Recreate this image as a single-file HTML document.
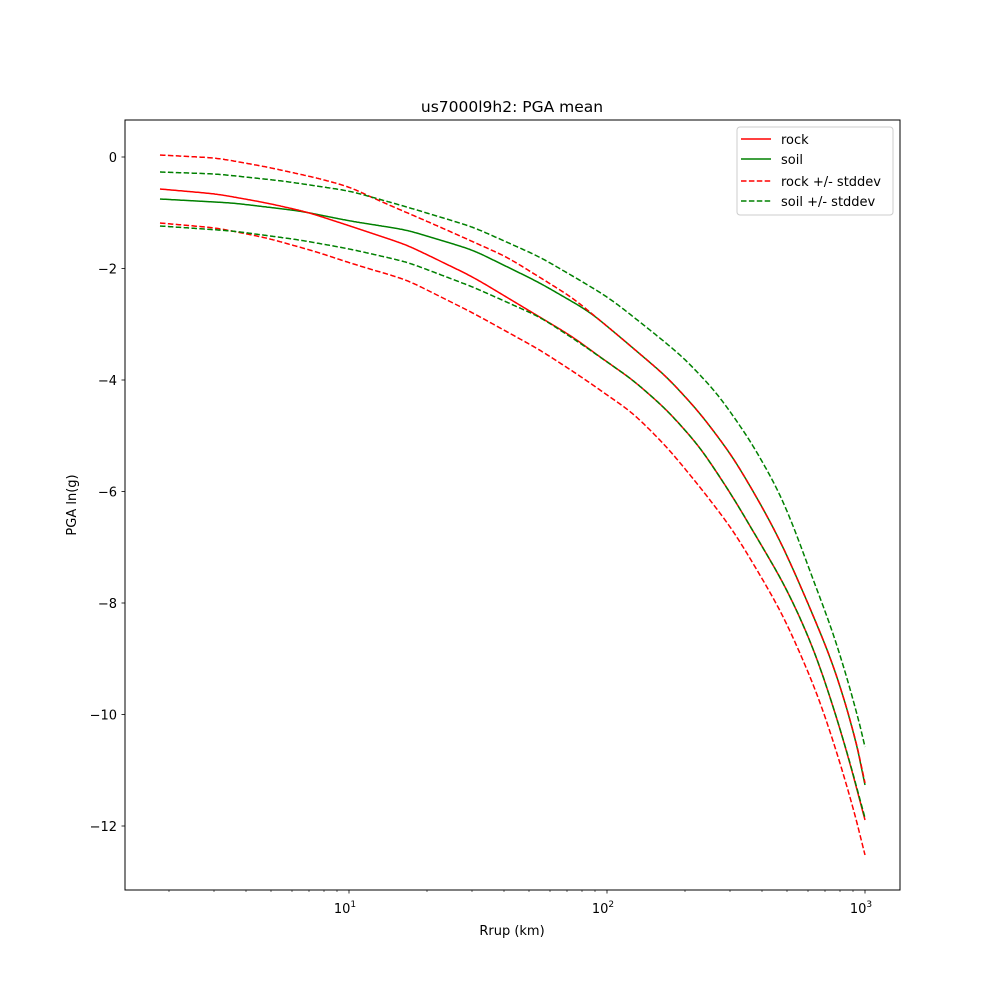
<!DOCTYPE html>
<html><head><meta charset="utf-8"><style>body{margin:0;background:#fff}svg{display:block}text{font-family:"DejaVu Sans","Liberation Sans",sans-serif}</style></head><body>
<svg width="1000" height="1000" viewBox="0 0 1000 1000">
<rect width="1000" height="1000" fill="#fff"/>
<g fill="none" stroke-width="1.5" stroke-linejoin="round">
<polyline class="s" stroke="green" points="160,199 233,203 300,211 350,221 407,230 473,250 540,283 590,312 620,337 667,377 700,413 733,457 760,503 780,540 798,580 815,620 833,663 853,727 865,785"/>
<polyline class="s" stroke="red" points="160,189 217,194 267,203 307,212 350,226 407,245 473,277 523,307 573,337 600,357 633,380 667,410 700,447 733,497 760,543 782,580 800,617 817,657 843,737 865,820"/>
<polyline class="s" stroke="red" stroke-dasharray="5.5,2.4" points="160,155 217,158 267,167 317,178 350,187 373,198 440,227 507,257 573,298 620,337 667,377 700,413 733,457 760,503 780,540 798,580 815,620 833,663 853,727 865,783"/>
<polyline class="s" stroke="red" stroke-dasharray="5.5,2.4" points="160,223 217,228 267,238 317,252 350,263 407,280 473,313 540,350 580,376 600,390 633,413 667,447 700,487 733,530 763,580 783,615 800,653 818,695 833,740 850,795 865,855"/>
<polyline class="s" stroke="green" stroke-dasharray="5.5,2.4" points="160,172 217,174 283,181 350,191 407,207 473,227 540,257 593,288 612,300 650,330 683,357 717,393 750,440 780,493 797,535 813,580 828,618 840,653 857,713 865,747"/>
<polyline class="s" stroke="green" stroke-dasharray="5.5,2.4" points="160,226 233,231 300,240 350,249 407,262 473,287 540,317 580,343 600,357 633,380 667,410 700,447 733,497 760,543 782,580 800,617 817,657 843,737 865,818"/>
</g>
<rect x="125" y="120" width="775" height="770" fill="none" stroke="#000" stroke-width="1"/>
<g stroke="#000" stroke-width="0.8">
<line x1="349" y1="890" x2="349" y2="893.5"/><line x1="607" y1="890" x2="607" y2="893.5"/><line x1="865" y1="890" x2="865" y2="893.5"/>
<g stroke-width="0.6">
<line x1="169" y1="890" x2="169" y2="892"/><line x1="214" y1="890" x2="214" y2="892"/><line x1="246" y1="890" x2="246" y2="892"/><line x1="271" y1="890" x2="271" y2="892"/><line x1="292" y1="890" x2="292" y2="892"/><line x1="309" y1="890" x2="309" y2="892"/><line x1="324" y1="890" x2="324" y2="892"/><line x1="337" y1="890" x2="337" y2="892"/>
<line x1="427" y1="890" x2="427" y2="892"/><line x1="472" y1="890" x2="472" y2="892"/><line x1="504" y1="890" x2="504" y2="892"/><line x1="529" y1="890" x2="529" y2="892"/><line x1="550" y1="890" x2="550" y2="892"/><line x1="567" y1="890" x2="567" y2="892"/><line x1="582" y1="890" x2="582" y2="892"/><line x1="595" y1="890" x2="595" y2="892"/>
<line x1="685" y1="890" x2="685" y2="892"/><line x1="730" y1="890" x2="730" y2="892"/><line x1="762" y1="890" x2="762" y2="892"/><line x1="787" y1="890" x2="787" y2="892"/><line x1="808" y1="890" x2="808" y2="892"/><line x1="825" y1="890" x2="825" y2="892"/><line x1="840" y1="890" x2="840" y2="892"/><line x1="853" y1="890" x2="853" y2="892"/>
</g>
<line x1="121.5" y1="157" x2="125" y2="157"/><line x1="121.5" y1="268.5" x2="125" y2="268.5"/><line x1="121.5" y1="380" x2="125" y2="380"/><line x1="121.5" y1="491.5" x2="125" y2="491.5"/><line x1="121.5" y1="603" x2="125" y2="603"/><line x1="121.5" y1="714.5" x2="125" y2="714.5"/><line x1="121.5" y1="826" x2="125" y2="826"/>
</g>
<g font-size="13" text-anchor="end">
<text x="117" y="162">0</text><text x="117" y="273.5">−2</text><text x="117" y="385">−4</text><text x="117" y="496.5">−6</text><text x="117" y="608">−8</text><text x="117" y="719.5">−10</text><text x="117" y="831">−12</text>
</g>
<g font-size="13" text-anchor="middle">
<text x="345" y="913">10<tspan font-size="9" dy="-6">1</tspan></text>
<text x="603" y="913">10<tspan font-size="9" dy="-6">2</tspan></text>
<text x="861" y="913">10<tspan font-size="9" dy="-6">3</tspan></text>
<text x="512" y="935">Rrup (km)</text>
<text x="512" y="112" font-size="15.5">us7000l9h2: PGA mean</text>
<text transform="translate(76,505) rotate(-90)">PGA ln(g)</text>
</g>
<rect x="737" y="127" width="156" height="88" rx="3" fill="#fff" fill-opacity="0.8" stroke="#ccc"/>
<g stroke-width="1.5">
<line x1="741" y1="139" x2="771" y2="139" stroke="red"/>
<line x1="741" y1="159" x2="771" y2="159" stroke="green"/>
<line x1="741" y1="181" x2="771" y2="181" stroke="red" stroke-dasharray="5.5,2.4"/>
<line x1="741" y1="201" x2="771" y2="201" stroke="green" stroke-dasharray="5.5,2.4"/>
</g>
<g font-size="13">
<text x="781" y="144">rock</text><text x="781" y="164">soil</text><text x="781" y="186">rock +/- stddev</text><text x="781" y="206">soil +/- stddev</text>
</g>
</svg>
<script>
document.querySelectorAll('polyline.s').forEach(function(pl){
  var p=pl.getAttribute('points').trim().split(/\s+/).map(function(s){return s.split(',').map(Number);});
  var x0=p[0][0],xN=p[p.length-1][0],ys=[],k=0;
  for(var x=x0;x<=xN;x++){
    while(k<p.length-2&&p[k+1][0]<x)k++;
    var a=p[k],b=p[k+1],t=(x-a[0])/(b[0]-a[0]);
    ys.push(a[1]+(b[1]-a[1])*t);
  }
  var n=ys.length,sm=[],sig=9;
  for(var i=0;i<n;i++){
    var w=Math.min(25,i,n-1-i),s=0,ws=0;
    for(var j=-w;j<=w;j++){var g=Math.exp(-j*j/(2*sig*sig));s+=g*ys[i+j];ws+=g;}
    sm.push(s/ws);
  }
  var d='M'+x0+','+sm[0].toFixed(1);
  for(var i=1;i<n;i++)d+=' L'+(x0+i)+','+sm[i].toFixed(1);
  var path=document.createElementNS('http://www.w3.org/2000/svg','path');
  ['stroke','stroke-dasharray'].forEach(function(a){var v=pl.getAttribute(a);if(v)path.setAttribute(a,v);});
  path.setAttribute('d',d);
  pl.parentNode.replaceChild(path,pl);
});
</script>
</body></html>
